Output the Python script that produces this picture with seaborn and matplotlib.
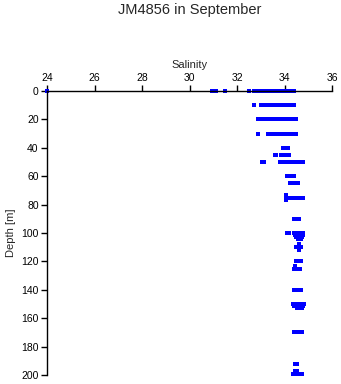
import matplotlib
matplotlib.use("Agg")
import matplotlib.pyplot as plt
import seaborn as sns
import pandas as pd

# Depth rows (m) and the salinity values observed at each depth
row_depth = [0, 10, 20, 30, 40, 45, 50, 60, 65, 73.5, 75, 76.5, 90,
             100, 101.5, 103, 104.5, 108, 110, 112, 120, 123.5, 125, 140,
             150, 151.5, 153, 170, 192, 197.5, 199]
row_salinity = [
    [24.0, 30.95, 31.1, 31.5, 32.5, 32.72, 32.8, 32.88, 33.0, 33.1, 33.2, 33.3,
     33.4, 33.5, 33.6, 33.7, 33.8, 33.9, 34.0, 34.1, 34.2, 34.3, 34.4],
    [32.72, 33.0, 33.15, 33.25, 33.35, 33.45, 33.55, 33.65, 33.75, 33.85, 33.95,
     34.05, 34.15, 34.25, 34.35, 34.42],
    [32.87, 32.95, 33.05, 33.15, 33.22, 33.32, 33.42, 33.52, 33.62, 33.72, 33.82,
     33.92, 34.02, 34.12, 34.22, 34.32, 34.42, 34.47],
    [32.87, 33.3, 33.4, 33.5, 33.6, 33.7, 33.8, 33.9, 34.0, 34.1, 34.2, 34.3,
     34.4, 34.5],
    [33.92, 34.0, 34.08, 34.13],
    [33.58, 33.66, 33.87, 33.95, 34.05, 34.12, 34.2],
    [33.07, 33.15, 33.83, 33.9, 34.0, 34.1, 34.2, 34.3, 34.4, 34.5, 34.6, 34.7,
     34.76],
    [34.12, 34.18, 34.37, 34.42],
    [34.25, 34.33, 34.5, 34.57],
    [34.07],
    [34.05, 34.12, 34.2, 34.3, 34.4, 34.5, 34.6, 34.7, 34.8],
    [34.07],
    [34.42, 34.5, 34.57, 34.62],
    [34.12, 34.18, 34.42, 34.5, 34.6, 34.7, 34.8],
    [34.45, 34.52, 34.6, 34.68, 34.76],
    [34.5, 34.58, 34.66, 34.72],
    [34.55, 34.62, 34.68],
    [34.6],
    [34.5, 34.57, 34.64, 34.71],
    [34.6],
    [34.5, 34.57, 34.64, 34.71],
    [34.45],
    [34.42, 34.5, 34.57, 34.65],
    [34.42, 34.53, 34.6, 34.7],
    [34.35, 34.42, 34.5, 34.58, 34.66, 34.74, 34.83],
    [34.42, 34.5, 34.58, 34.66, 34.74, 34.8],
    [34.52, 34.6, 34.68, 34.75],
    [34.42, 34.5, 34.58, 34.66, 34.72],
    [34.46, 34.53],
    [34.45, 34.52],
    [34.35, 34.42, 34.5, 34.58, 34.66, 34.74],
]
x_ticks = [24, 26, 28, 30, 32, 34, 36]
y_ticks = [0, 20, 40, 60, 80, 100, 120, 140, 160, 180, 200]

recs = []
for d, sals in zip(row_depth, row_salinity):
    for s in sals:
        recs.append({"Salinity": s, "Depth": d})
df = pd.DataFrame(recs)

sns.set_style("white")
plt.rcParams["font.family"] = ["Liberation Sans", "DejaVu Sans"]

W, H = 341, 384
fig = plt.figure(figsize=(W / 100, H / 100), dpi=100)
ax = fig.add_axes([47 / W, 1 - 375 / H, (332 - 47) / W, (375 - 91) / H])

sns.scatterplot(data=df, x="Salinity", y="Depth", ax=ax, marker="s", s=5,
                color="#0000ff", linewidth=0, clip_on=False, legend=False)

ax.set_xlim(24, 36)
ax.set_ylim(200, 0)
ax.xaxis.tick_top()
ax.xaxis.set_label_position("top")
ax.set_xticks(x_ticks)
ax.set_yticks(y_ticks)
ax.tick_params(axis="both", direction="out", length=4, width=1, color="black",
               labelsize=7.5, pad=2, labelcolor="black")
ax.tick_params(axis="x", top=True, bottom=False)
ax.tick_params(axis="y", left=True, right=False)
for side in ["right", "bottom"]:
    ax.spines[side].set_visible(False)
for side in ["left", "top"]:
    ax.spines[side].set_visible(True)
    ax.spines[side].set_color("black")
    ax.spines[side].set_linewidth(1)
ax.set_xlabel("Salinity", fontsize=8, labelpad=3)
ax.set_ylabel("Depth [m]", fontsize=8, labelpad=4)
ax.grid(False)

fig.text(190 / W, 1 - 10 / H, "JM4856 in September", ha="center", va="center",
         fontsize=10.5)

fig.savefig("out.png", dpi=100)
